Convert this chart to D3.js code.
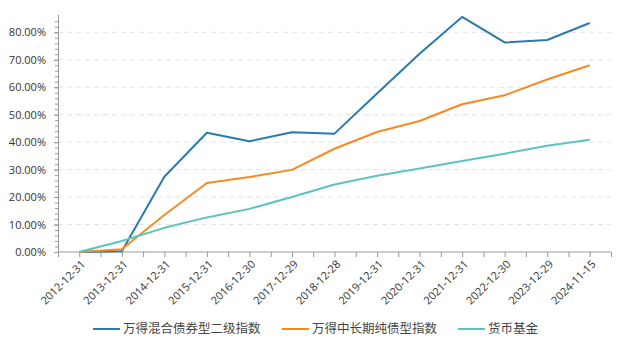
<!DOCTYPE html>
<html lang="zh">
  <head>
    <meta charset="utf-8" />
    <title>指数累计收益</title>
    <script src="https://d3js.org/d3.v7.min.js"></script>
    <style>
      body {
        margin: 0;
        background: #fff;
      }
      .axis text {
        font-family: "Open Sans", "DejaVu Sans", sans-serif;
        font-size: 11px;
        fill: #333;
      }
      .axis path,
      .axis line {
        stroke: #999;
      }
      .grid line {
        stroke: #e3e3e3;
        stroke-dasharray: 5, 4;
      }
      .series {
        fill: none;
        stroke-width: 2;
        stroke-linejoin: round;
      }
      .legend text {
        font-family: "Noto Sans CJK SC", sans-serif;
        font-size: 12.5px;
        fill: #444;
      }
    </style>
  </head>
  <body>
    <svg width="626" height="352"></svg>
    <script type="text/javascript">
      const dates = [
        "2012-12-31", "2013-12-31", "2014-12-31", "2015-12-31", "2016-12-30",
        "2017-12-29", "2018-12-28", "2019-12-31", "2020-12-31", "2021-12-31",
        "2022-12-30", "2023-12-29", "2024-11-15",
      ];

      // cumulative returns, in %
      const mixedBond = [0, 0.3, 27.4, 43.4, 40.3, 43.6, 43.1, 57.7, 72.2, 85.6, 76.3, 77.2, 83.4];
      const pureBond = [0, 1.0, 13.5, 25.1, 27.3, 29.9, 37.6, 43.7, 47.7, 53.8, 57.1, 62.8, 68.0];
      const moneyFund = [0, 4.0, 8.8, 12.6, 15.7, 20.0, 24.6, 27.8, 30.4, 33.1, 35.8, 38.7, 40.9];

      const seriesNames = ["万得混合债券型二级指数", "万得中长期纯债型指数", "货币基金"];
      const seriesColors = ["#2a7aae", "#f58a22", "#5cc3c1"];
      const yTicks = [0, 10, 20, 30, 40, 50, 60, 70, 80];

      const series = [mixedBond, pureBond, moneyFund].map((values, i) => ({
        name: seriesNames[i],
        color: seriesColors[i],
        values: values,
      }));

      const svg = d3.select("svg"),
        margin = { top: 15, right: 15, bottom: 100, left: 58 },
        width = svg.attr("width") - margin.left - margin.right,
        height = svg.attr("height") - margin.top - margin.bottom;

      const g = svg
        .append("g")
        .attr("transform", "translate(" + margin.left + "," + margin.top + ")");

      const x = d3.scaleBand().domain(dates).range([0, width]);
      const xc = (d) => x(d) + x.bandwidth() / 2;

      const y = d3.scaleLinear().domain([0, 86.3]).range([height, 0]);

      // gridlines
      g.append("g")
        .attr("class", "grid")
        .selectAll("line")
        .data(yTicks.slice(1))
        .join("line")
        .attr("x1", 0)
        .attr("x2", width)
        .attr("y1", (d) => y(d))
        .attr("y2", (d) => y(d));

      // y axis with minor ticks every 2%
      const yMinor = d3.range(0, 86, 2);
      g.append("g")
        .attr("class", "axis")
        .call(d3.axisLeft(y).tickValues(yMinor).tickSize(3).tickFormat(""))
        .call((a) => a.select(".domain").remove());

      g.append("g")
        .attr("class", "axis")
        .call(
          d3
            .axisLeft(y)
            .tickValues(yTicks)
            .tickSize(4)
            .tickSizeOuter(0)
            .tickPadding(8)
            .tickFormat((d) => d3.format(".2f")(d) + "%")
        )
        .call((a) => a.select(".domain").attr("d", "M0.5," + y(86.3) + "V" + height));

      // x axis: ticks at band centres and edges
      const xTickPos = [];
      dates.forEach((d) => {
        xTickPos.push(x(d));
        xTickPos.push(xc(d));
      });
      xTickPos.push(width);

      const xAxis = g
        .append("g")
        .attr("class", "axis")
        .attr("transform", "translate(0," + height + ")");

      xAxis
        .append("line")
        .attr("x1", 0)
        .attr("x2", width)
        .attr("stroke", "#999");

      xAxis
        .selectAll(".tick-mark")
        .data(xTickPos)
        .join("line")
        .attr("x1", (d) => d + 0.5)
        .attr("x2", (d) => d + 0.5)
        .attr("y1", 0)
        .attr("y2", 5)
        .attr("stroke", "#999");

      xAxis
        .selectAll(".label")
        .data(dates)
        .join("text")
        .attr("text-anchor", "end")
        .attr("transform", (d) => "translate(" + (xc(d) + 4) + ",10) rotate(-45)")
        .attr("dy", "0.35em")
        .text((d) => d);

      // lines
      const line = d3
        .line()
        .x((d, i) => xc(dates[i]))
        .y((d) => y(d));

      g.selectAll(".series")
        .data(series)
        .join("path")
        .attr("class", "series")
        .attr("stroke", (d) => d.color)
        .attr("d", (d) => line(d.values));

      // legend
      const legendX = [93, 282, 458];
      const legend = svg
        .append("g")
        .attr("class", "legend")
        .selectAll("g")
        .data(series)
        .join("g")
        .attr("transform", (d, i) => "translate(" + legendX[i] + ",329)");

      legend
        .append("line")
        .attr("x1", 0)
        .attr("x2", 27)
        .attr("stroke", (d) => d.color)
        .attr("stroke-width", 2);

      legend
        .append("text")
        .attr("x", 30)
        .attr("dy", "0.35em")
        .text((d) => d.name);
    </script>
  </body>
</html>
